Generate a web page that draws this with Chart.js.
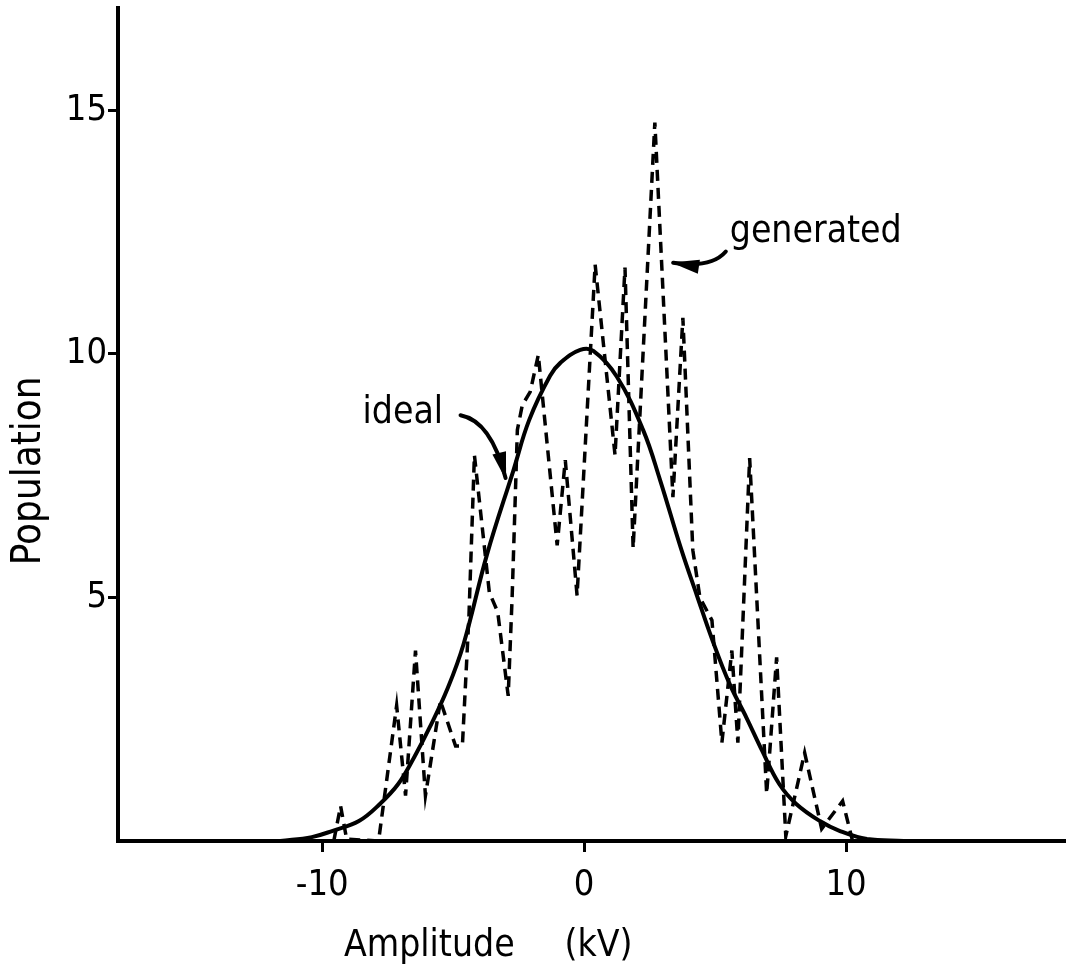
<!DOCTYPE html>
<html>
<head>
<meta charset="utf-8">
<title>Population vs amplitude</title>
<script src="https://cdn.jsdelivr.net/npm/chart.js@4.4.1/dist/chart.umd.min.js"></script>
<style>
  html, body { margin: 0; padding: 0; background: #fff; }
  #wrap { width: 1066px; height: 975px; position: relative; }
</style>
</head>
<body>
<div id="wrap"><canvas id="popChart"></canvas></div>
<script>
// Axis ticks
const xTicks = [-10, 0, 10];
const yTicks = [5, 10, 15];

// Ideal distribution (smooth curve)
const idealX = [-11.6, -10.4, -9.6, -8.6, -7.8, -7.1, -6.5, -5.9, -5.2, -4.6, -3.7, -2.7, -2.1, -1.3, -0.9, -0.15,
                0.35, 1.25, 2.25, 2.9, 3.7, 4.3, 4.9, 5.55, 6.2, 6.8, 7.45, 8.1, 9.0, 9.75, 10.8, 12.2];
const idealY = [0, 0.08, 0.21, 0.41, 0.76, 1.17, 1.71, 2.33, 3.15, 4.05, 5.9, 7.61, 8.64, 9.55, 9.82, 10.08,
                10.06, 9.53, 8.44, 7.41, 6.0, 5.05, 4.12, 3.23, 2.53, 1.85, 1.17, 0.76, 0.41, 0.21, 0.04, 0];

// Generated population (dashed)
const genX = [-9.56, -9.30, -9.07, -7.85, -7.16, -6.82, -6.44, -6.06, -5.49, -4.91, -4.65, -4.40, -4.19, -3.62,
              -3.30, -2.90, -2.75, -2.55, -2.36, -2.06, -1.75, -1.03, -0.72, -0.27, 0.42, 1.18, 1.56, 1.87, 2.70,
              3.39, 3.77, 4.15, 4.42, 4.88, 5.26, 5.64, 5.87, 6.32, 6.97, 7.35, 7.70, 8.42, 9.07, 9.87, 10.25];
const genY = [0, 0.72, 0.04, 0, 2.78, 0.93, 3.91, 0.93, 2.88, 1.95, 1.95, 4.60, 7.92, 5.10,
              4.70, 2.98, 5.0, 8.44, 8.95, 9.22, 9.98, 6.07, 7.82, 5.04, 11.83, 7.92, 11.77, 6.01, 14.75,
              7.06, 10.74, 5.97, 5.0, 4.53, 2.02, 3.91, 2.02, 7.86, 0.97, 3.77, 0.10, 1.81, 0.25, 0.82, 0];

const toPoints = (xs, ys) => xs.map((x, i) => ({ x: x, y: ys[i] }));

const FONT = '"DejaVu Sans Condensed", "DejaVu Sans", sans-serif';

// Labels, arrows and axis titles drawn on top of the plot
const notes = {
  id: 'notes',
  afterDraw(chart) {
    const ctx = chart.ctx;
    const xs = chart.scales.x, ys = chart.scales.y;
    const px = v => xs.getPixelForValue(v);
    const py = v => ys.getPixelForValue(v);

    ctx.save();
    ctx.fillStyle = '#000';
    ctx.strokeStyle = '#000';
    ctx.font = '37px ' + FONT;
    ctx.textBaseline = 'alphabetic';
    ctx.textAlign = 'left';
    ctx.fillText('ideal', px(-8.46), py(8.58));
    ctx.fillText('generated', px(5.56), py(12.3));

    // curved arrow with a filled head
    function arrow(x0, y0, cx, cy, x1, y1) {
      ctx.lineWidth = 4;
      ctx.lineCap = 'round';
      ctx.beginPath();
      ctx.moveTo(x0, y0);
      ctx.quadraticCurveTo(cx, cy, x1, y1);
      ctx.stroke();
      const a = Math.atan2(y1 - cy, x1 - cx);
      const len = 26, half = 7;
      ctx.beginPath();
      ctx.moveTo(x1 + 2 * Math.cos(a), y1 + 2 * Math.sin(a));
      ctx.lineTo(x1 - len * Math.cos(a) + half * Math.sin(a), y1 - len * Math.sin(a) - half * Math.cos(a));
      ctx.lineTo(x1 - len * Math.cos(a) - half * Math.sin(a), y1 - len * Math.sin(a) + half * Math.cos(a));
      ctx.closePath();
      ctx.fill();
    }
    arrow(px(-4.72), py(8.74), px(-3.55), py(8.62), px(-3.0), py(7.45));
    arrow(px(5.41), py(12.1), px(4.85), py(11.75), px(3.4), py(11.87));

    // axis titles
    ctx.textAlign = 'center';
    ctx.textBaseline = 'middle';
    ctx.font = '37px ' + FONT;
    ctx.fillText('Amplitude\u2003\u2002(kV)', px(-3.66), 946);
    ctx.font = '40px ' + FONT;
    ctx.translate(30, py(7.6));
    ctx.rotate(-Math.PI / 2);
    ctx.fillText('Population', 0, 0);
    ctx.restore();
  }
};

const ctx = document.getElementById('popChart').getContext('2d');
new Chart(ctx, {
  type: 'line',
  data: {
    datasets: [
      {
        label: 'ideal',
        data: toPoints(idealX, idealY),
        borderColor: '#000',
        borderWidth: 4,
        pointRadius: 0,
        tension: 0.4,
        fill: false
      },
      {
        label: 'generated',
        data: toPoints(genX, genY),
        borderColor: '#000',
        borderWidth: 3.5,
        borderDash: [11, 7],
        pointRadius: 0,
        tension: 0,
        fill: false
      }
    ]
  },
  options: {
    responsive: true,
    maintainAspectRatio: false,
    animation: false,
    layout: { padding: { top: 8, right: 0, left: 0, bottom: 0 } },
    plugins: {
      legend: { display: false },
      tooltip: { enabled: false }
    },
    scales: {
      x: {
        type: 'linear',
        min: -17.8,
        max: 18.4,
        afterBuildTicks: axis => { axis.ticks = xTicks.map(v => ({ value: v })); },
        afterFit: axis => {
          axis.height = 134;
          axis.paddingLeft = 0;
          axis.paddingRight = 0;
        },
        border: { display: true, color: '#000', width: 4 },
        grid: { drawOnChartArea: false, drawTicks: true, tickLength: 11, tickWidth: 3, tickColor: '#000' },
        ticks: { color: '#000', padding: 12, font: { family: FONT, size: 36 } }
      },
      y: {
        type: 'linear',
        min: 0,
        max: 17.1,
        afterBuildTicks: axis => { axis.ticks = yTicks.map(v => ({ value: v })); },
        afterFit: axis => {
          axis.width = 118;
          axis.paddingTop = 0;
          axis.paddingBottom = 0;
        },
        border: { display: true, color: '#000', width: 4 },
        grid: { drawOnChartArea: false, drawTicks: true, tickLength: 10, tickWidth: 3, tickColor: '#000' },
        ticks: { color: '#000', padding: 1, font: { family: FONT, size: 36 } }
      }
    }
  },
  plugins: [notes]
});
</script>
</body>
</html>
